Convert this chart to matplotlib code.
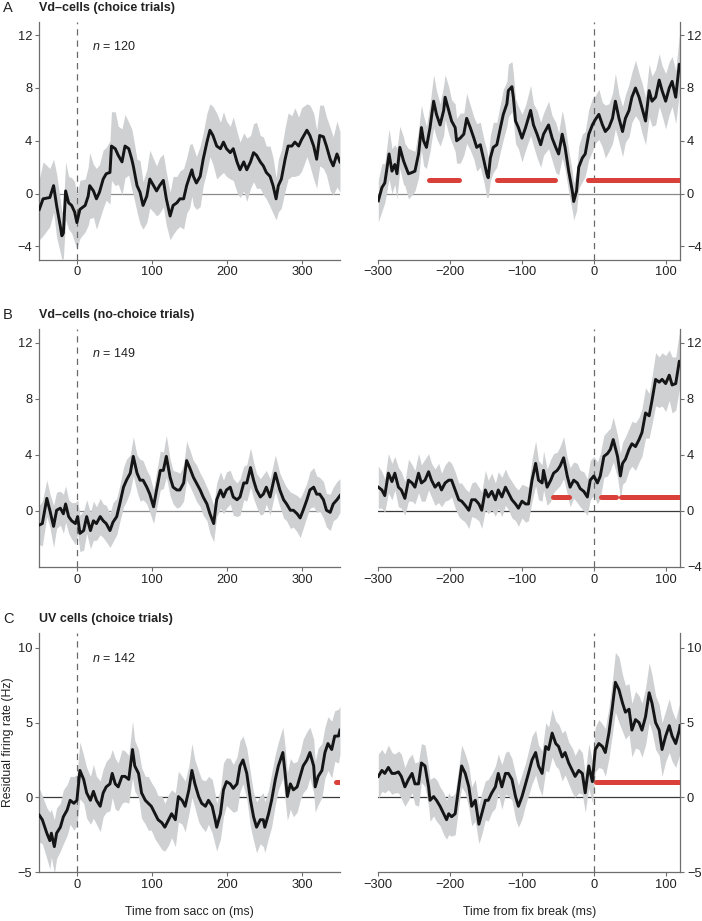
import numpy as np
import matplotlib
matplotlib.use("Agg")
import matplotlib.pyplot as plt

plt.rcParams['font.family'] = ['Liberation Sans', 'DejaVu Sans']
plt.rcParams['mathtext.fontset'] = 'custom'
plt.rcParams['mathtext.it'] = 'Liberation Sans:italic'
plt.rcParams['mathtext.rm'] = 'Liberation Sans'

# ---- data (time in ms, residual rate in Hz) ----
# A: Vd-cells, choice trials
a_sacc_t = [-50, -45, -36, -31, -27, -22, -20, -18, -15, -11, -7, -3, 0, 4, 11,
            15, 17, 22, 26, 30, 35, 39, 44, 46, 51, 55, 60, 64, 69, 73,
            75, 80, 84, 88, 93, 97, 102, 106, 110, 115, 119, 124, 128, 133, 137,
            142, 146, 150, 153, 155, 159, 164, 168, 173, 177, 181, 186, 191, 195, 199,
            204, 208, 213, 217, 222, 226, 231, 235, 239, 244, 248, 252, 257, 261, 265,
            268, 272, 277, 281, 286, 290, 295, 299, 306, 310, 315, 319, 323, 328, 332,
            337, 341, 346, 350]
a_sacc_mean = [-1.2, -0.4, -0.3, 0.6, -0.9, -2.5, -3.2, -3.0, 0.2, -0.7, -0.9, -1.4, -2.2, -1.2, -0.9,
               -0.2, 0.6, 0.2, -0.4, 0.1, 1.1, 1.5, 1.6, 3.6, 3.4, 2.9, 2.4, 3.6, 3.4, 2.6,
               2.1, 0.6, 0.1, -0.9, -0.2, 1.1, 0.6, 0.2, 0.6, 1.0, -0.4, -1.7, -0.9, -0.7, -0.4,
               -0.4, 0.6, 1.3, 1.8, 1.3, 0.8, 1.3, 2.6, 3.9, 4.8, 4.4, 3.6, 3.4, 3.9, 3.4,
               3.1, 3.4, 2.4, 1.8, 2.4, 1.8, 2.4, 3.1, 2.9, 2.4, 2.1, 1.6, 1.3, 0.6, -0.4,
               0.6, 1.1, 2.6, 3.6, 3.6, 3.9, 3.6, 4.1, 4.8, 4.4, 3.6, 2.6, 4.4, 4.3, 3.6,
               2.6, 2.1, 3.0, 2.4]
a_sacc_sem = [2.3, 2.8, 2.2, 2.0, 2.4, 2.0, 1.8, 1.9, 2.2, 2.0, 2.1, 2.3, 2.0, 2.2, 2.0,
              2.2, 2.5, 2.0, 2.3, 2.1, 2.2, 2.0, 2.4, 2.6, 2.8, 2.2, 2.5, 2.4, 2.0, 2.3,
              2.2, 2.0, 2.4, 1.8, 2.0, 2.2, 2.0, 1.9, 2.1, 2.0, 2.0, 1.8, 2.2, 2.0, 2.1,
              2.3, 2.1, 2.4, 2.0, 2.2, 2.0, 2.3, 2.0, 2.2, 2.0, 2.2, 2.5, 2.0, 2.3, 2.1,
              2.0, 2.4, 2.3, 2.1, 2.2, 2.4, 2.0, 2.2, 2.5, 2.0, 2.2, 2.0, 2.3, 2.1, 1.6,
              2.0, 2.2, 2.4, 2.5, 2.3, 2.6, 2.2, 2.4, 2.0, 2.3, 2.5, 2.2, 2.3, 2.4, 2.2,
              2.4, 2.2, 2.5, 2.3]

a_fix_t = [-300, -295, -291, -285, -281, -277, -274, -270, -265, -263, -258, -253, -249, -244,
           -240, -237, -233, -228, -223, -219, -214, -209, -207, -202, -198, -193, -191, -186, -181,
           -177, -172, -167, -163, -158, -153, -149, -147, -144, -140, -135, -130, -126, -121, -119,
           -114, -112, -109, -105, -100, -95, -88, -84, -79, -74, -70, -63, -58, -53, -49,
           -44, -40, -35, -30, -28, -24, -21, -16, -12, -7, -2, 2, 7, 12, 16,
           21, 26, 30, 35, 40, 44, 49, 53, 58, 63, 67, 72, 77, 81, 86,
           91, 95, 100, 105, 109, 114, 119, 120]
a_fix_mean = [-0.55, 0.45, 0.8, 3.0, 1.7, 2.2, 1.5, 3.5, 2.5, 2.2, 1.5, 1.6, 1.7, 3.0,
              5.0, 4.0, 3.5, 5.0, 7.0, 6.0, 5.2, 6.3, 7.3, 6.3, 5.5, 5.0, 4.0, 4.2, 4.5,
              5.7, 5.0, 4.2, 3.5, 3.7, 2.5, 1.5, 1.2, 2.7, 3.5, 3.7, 5.0, 6.0, 6.8, 7.8,
              8.1, 7.3, 5.5, 5.0, 4.2, 5.0, 6.3, 5.2, 4.5, 3.7, 4.5, 5.2, 4.2, 3.5, 3.0,
              4.5, 3.5, 1.7, 0.2, -0.6, 0.2, 2.0, 2.7, 3.0, 4.5, 5.2, 5.6, 6.0, 5.2, 4.7,
              5.0, 5.7, 7.0, 5.7, 4.7, 5.7, 6.3, 7.3, 8.0, 7.3, 6.5, 5.5, 7.8, 7.0, 7.3,
              8.6, 7.8, 7.0, 8.0, 8.5, 7.3, 9.8, 9.5]
a_fix_sem = [1.6, 1.8, 1.5, 1.9, 1.7, 1.5, 1.9, 1.6, 1.8, 1.6, 1.9, 1.7, 1.5, 1.8,
             1.7, 1.9, 1.6, 1.8, 2.0, 1.8, 1.6, 1.9, 1.7, 1.8, 1.6, 1.8, 1.7, 1.9, 1.6,
             1.9, 1.7, 1.6, 1.8, 1.7, 1.6, 1.8, 1.5, 1.7, 1.9, 1.7, 1.8, 1.9, 1.7, 2.0,
             1.9, 1.8, 1.7, 1.6, 1.8, 1.7, 1.9, 1.6, 1.8, 1.7, 1.6, 1.8, 1.7, 1.9, 1.6,
             1.8, 1.7, 1.6, 1.5, 1.4, 1.5, 1.6, 1.8, 1.7, 1.9, 2.0, 1.8, 1.9, 1.7, 2.0,
             1.8, 1.9, 2.1, 1.8, 1.9, 1.8, 2.0, 1.9, 2.1, 1.8, 1.9, 1.8, 2.0, 1.9, 2.1,
             2.0, 1.9, 2.1, 2.0, 1.9, 2.0, 2.2, 2.0]
a_fix_sig = [(-229, -188), (-135, -54), (-8, 120)]

# B: Vd-cells, no-choice trials
b_sacc_t = [-50, -46, -40, -36, -31, -27, -22, -18, -15, -11, -7, -2, 1, 4, 9,
            13, 18, 22, 26, 31, 35, 39, 44, 48, 53, 57, 62, 66, 71, 75,
            80, 84, 88, 93, 97, 102, 106, 111, 115, 119, 124, 128, 133, 137, 142,
            146, 150, 155, 159, 164, 168, 173, 177, 182, 186, 191, 195, 199, 204, 208,
            213, 217, 222, 226, 231, 235, 239, 244, 248, 252, 257, 264, 270, 275, 279,
            284, 288, 293, 297, 301, 306, 310, 315, 319, 323, 328, 332, 337, 341, 346,
            350]
b_sacc_mean = [-1.0, -0.9, 0.9, 0.05, -1.1, 0.05, 0.2, -0.2, 0.5, -0.4, -0.7, -0.9, -0.4, -1.6, -1.4,
               -0.4, -1.4, -0.7, -0.9, -0.4, -0.7, -0.9, -1.4, -0.8, -0.4, 0.5, 1.7, 2.2, 2.7, 3.9,
               2.7, 2.2, 2.2, 1.7, 1.2, 0.3, 1.5, 2.9, 2.9, 3.9, 2.4, 1.7, 1.5, 1.5, 2.0,
               3.6, 3.1, 2.4, 2.0, 1.5, 1.0, 0.5, -0.2, -0.9, 0.8, 1.5, 1.0, 1.5, 1.7, 1.0,
               0.8, 1.0, 2.0, 2.0, 3.1, 2.2, 1.5, 1.0, 1.2, 1.7, 1.0, 2.7, 1.5, 0.8, 0.5,
               0.05, 0.05, -0.2, -0.5, 0.05, 0.8, 1.5, 1.7, 1.2, 1.2, 0.8, 0.05, -0.1, 0.5, 0.8,
               1.1]
b_sacc_sem = [1.4, 1.6, 1.3, 1.2, 1.5, 1.3, 1.2, 1.4, 1.3, 1.2, 1.3, 1.5, 1.2, 1.3, 1.4,
              1.2, 1.3, 1.4, 1.2, 1.3, 1.2, 1.3, 1.2, 1.4, 1.3, 1.3, 1.4, 1.5, 1.3, 1.4,
              1.3, 1.5, 1.4, 1.2, 1.3, 1.2, 1.3, 1.4, 1.3, 1.5, 1.3, 1.2, 1.3, 1.2, 1.3,
              1.4, 1.3, 1.2, 1.3, 1.2, 1.3, 1.2, 1.4, 1.3, 1.2, 1.3, 1.2, 1.3, 1.2, 1.3,
              1.2, 1.3, 1.2, 1.3, 1.4, 1.3, 1.2, 1.3, 1.4, 1.2, 1.3, 1.3, 1.2, 1.3, 1.2,
              1.3, 1.2, 1.3, 1.4, 1.3, 1.2, 1.3, 1.4, 1.3, 1.2, 1.3, 1.2, 1.3, 1.2, 1.3,
              1.2]

b_fix_t = [-300, -295, -291, -286, -281, -277, -272, -268, -263, -258, -253, -249, -244, -240, -235,
           -230, -226, -221, -216, -212, -207, -202, -198, -193, -188, -184, -179, -174, -170, -165,
           -160, -156, -151, -147, -142, -137, -133, -128, -123, -119, -114, -109, -105, -100, -95,
           -91, -86, -81, -77, -72, -70, -65, -60, -56, -51, -47, -42, -37, -33, -28,
           -23, -19, -14, -9, -5, 0, 5, 9, 14, 19, 23, 27, 33, 37, 40,
           44, 49, 53, 58, 63, 67, 72, 77, 81, 86, 91, 95, 100, 105, 109,
           114, 119, 120]
b_fix_mean = [1.7, 1.5, 1.1, 2.7, 2.1, 2.7, 1.7, 1.5, 0.9, 2.2, 2.0, 1.7, 2.7, 2.0, 2.2,
              2.8, 2.2, 1.7, 2.0, 1.5, 2.0, 2.2, 2.2, 1.5, 0.8, 0.7, 0.4, 0.05, 0.8, 0.8,
              0.5, 0.05, 1.5, 1.0, 1.4, 0.8, 1.5, 1.0, 1.7, 1.3, 0.8, 0.5, 0.2, 0.7, 0.5,
              0.5, 2.2, 3.4, 2.2, 2.0, 2.9, 1.7, 2.2, 2.7, 2.9, 3.2, 3.8, 2.5, 1.7, 2.2,
              2.0, 1.6, 1.4, 1.0, 2.2, 2.5, 2.0, 2.5, 3.9, 4.1, 4.4, 5.1, 3.9, 2.5, 3.4,
              3.7, 4.4, 4.8, 4.6, 5.1, 5.6, 7.0, 6.8, 7.9, 9.4, 9.2, 9.4, 9.1, 9.7, 9.0,
              9.1, 10.7, 10.5]
b_fix_sem = [1.5, 1.3, 1.2, 1.4, 1.3, 1.2, 1.4, 1.3, 1.2, 1.5, 1.3, 1.2, 1.4, 1.3, 1.5,
             1.3, 1.2, 1.3, 1.4, 1.2, 1.3, 1.4, 1.2, 1.3, 1.2, 1.3, 1.2, 1.3, 1.2, 1.3,
             1.2, 1.3, 1.4, 1.2, 1.3, 1.2, 1.3, 1.4, 1.3, 1.2, 1.3, 1.2, 1.3, 1.2, 1.3,
             1.2, 1.5, 1.6, 1.4, 1.3, 1.4, 1.3, 1.5, 1.4, 1.3, 1.4, 1.5, 1.3, 1.4, 1.3,
             1.4, 1.3, 1.4, 1.3, 1.4, 1.4, 1.5, 1.6, 1.5, 1.6, 1.5, 1.6, 1.5, 1.6, 1.5,
             1.6, 1.5, 1.6, 1.7, 1.6, 1.7, 1.8, 1.6, 1.7, 1.9, 1.8, 1.9, 2.0, 1.8, 2.0,
             1.9, 2.0, 1.9]
b_fix_sig = [(-57, -35), (10, 31), (38, 120)]

# C: UV cells, choice trials
c_sacc_t = [-50, -46, -40, -36, -34, -30, -27, -22, -18, -13, -9, -4, 0, 4, 9,
            13, 18, 22, 26, 31, 35, 39, 44, 47, 51, 55, 60, 64, 69, 74,
            77, 82, 86, 91, 95, 99, 104, 108, 113, 117, 122, 126, 131, 135, 140,
            144, 149, 153, 157, 162, 166, 171, 175, 180, 184, 186, 191, 195, 199, 204,
            208, 213, 217, 221, 226, 231, 235, 239, 244, 248, 250, 255, 259, 264, 268,
            274, 277, 280, 284, 288, 293, 297, 301, 306, 310, 315, 317, 321, 326, 330,
            334, 339, 343, 348, 350]
c_sacc_mean = [-1.2, -1.5, -2.4, -2.9, -2.4, -3.3, -2.4, -2.0, -1.3, -0.85, -0.2, -0.4, -0.2, 1.8, 1.2,
               0.3, -0.2, 0.4, -0.2, -0.6, 0.3, 0.7, 0.9, 1.6, 0.9, 0.7, 1.4, 1.4, 1.2, 3.2,
               2.1, 1.6, 0.3, -0.2, -0.4, -0.6, -1.1, -1.5, -1.7, -2.0, -1.5, -1.1, -1.5, 0.05, -0.2,
               -0.6, 0.5, 1.8, 0.9, 0.05, -0.4, -0.6, -0.2, -0.6, -1.5, -2.0, -1.1, 0.5, 1.05, 0.9,
               0.6, 0.9, 2.1, 2.5, 1.6, -0.2, -1.3, -2.0, -1.5, -1.5, -2.0, -1.1, -0.2, 1.2, 2.1,
               3.0, 1.6, 0.05, 0.9, 0.5, 0.7, 1.4, 2.1, 2.5, 3.0, 2.1, 0.7, 1.4, 1.8, 3.0,
               3.6, 3.2, 4.1, 4.1, 4.5]
c_sacc_sem = [1.8, 1.6, 1.7, 1.9, 1.6, 1.8, 1.7, 1.6, 1.8, 1.7, 1.6, 1.8, 1.7, 1.9, 1.6,
              1.7, 1.6, 1.8, 1.6, 1.7, 1.6, 1.7, 1.8, 1.6, 1.7, 1.6, 1.8, 1.7, 1.6, 1.9,
              1.7, 1.6, 1.7, 1.6, 1.8, 1.6, 1.7, 1.6, 1.8, 1.6, 1.7, 1.6, 1.8, 1.7, 1.6,
              1.7, 1.6, 1.8, 1.6, 1.7, 1.6, 1.7, 1.6, 1.8, 1.7, 1.6, 1.7, 1.8, 1.6, 1.7,
              1.6, 1.8, 1.7, 1.6, 1.7, 1.8, 1.6, 1.7, 1.6, 1.8, 1.7, 1.6, 1.8, 1.7, 1.6,
              1.7, 1.8, 1.6, 1.7, 1.8, 1.7, 1.6, 1.8, 1.9, 1.7, 1.8, 1.7, 1.9, 1.8, 1.7,
              1.8, 1.9, 1.7, 1.8, 1.6]
c_sacc_sig = [(345, 350)]

c_fix_t = [-300, -295, -291, -286, -281, -277, -272, -268, -263, -258, -253, -249, -244, -240, -235,
           -230, -228, -223, -219, -214, -209, -205, -202, -198, -193, -188, -184, -179, -174, -170,
           -165, -160, -156, -151, -147, -142, -137, -133, -128, -123, -119, -114, -109, -105, -100,
           -95, -91, -86, -81, -77, -72, -67, -63, -58, -53, -49, -44, -40, -35, -30,
           -26, -21, -16, -12, -7, -2, 2, 7, 12, 16, 21, 26, 30, 35, 40,
           44, 49, 53, 58, 63, 67, 72, 77, 81, 86, 91, 95, 100, 105, 109,
           114, 119, 120]
c_fix_mean = [1.4, 1.8, 1.6, 2.0, 1.6, 1.6, 1.7, 1.4, 0.7, 1.2, 1.6, 0.9, 0.9, 2.3, 2.1,
              0.7, -0.2, 0.05, -0.2, -0.6, -1.1, -1.5, -1.1, -1.3, -1.1, 0.7, 2.1, 1.6, 0.7, -0.6,
              -0.2, -1.8, -1.1, -0.2, -0.2, 0.3, 0.7, 1.6, 0.7, 1.6, 1.6, 1.2, 0.05, -0.6, 0.05,
              0.9, 1.6, 2.5, 3.0, 2.1, 1.6, 3.4, 3.2, 4.3, 3.6, 3.4, 2.7, 3.0, 2.3, 1.8,
              1.4, 1.8, 1.6, 0.3, 2.1, 1.05, 3.2, 3.6, 3.4, 3.0, 4.3, 6.1, 7.7, 7.2, 6.3,
              5.7, 5.9, 4.5, 5.2, 5.0, 4.5, 5.4, 7.0, 6.3, 5.0, 4.5, 3.2, 4.1, 4.8, 4.1,
              3.6, 4.5, 4.8]
c_fix_sem = [1.5, 1.4, 1.3, 1.5, 1.4, 1.3, 1.4, 1.5, 1.3, 1.4, 1.3, 1.4, 1.5, 1.3, 1.4,
             1.3, 1.4, 1.3, 1.4, 1.3, 1.4, 1.3, 1.4, 1.3, 1.4, 1.3, 1.4, 1.3, 1.4, 1.3,
             1.4, 1.3, 1.4, 1.3, 1.4, 1.3, 1.4, 1.3, 1.5, 1.4, 1.5, 1.4, 1.5, 1.4, 1.5,
             1.4, 1.5, 1.6, 1.5, 1.4, 1.5, 1.6, 1.5, 1.6, 1.5, 1.5, 1.6, 1.5, 1.4, 1.5,
             1.4, 1.5, 1.4, 1.3, 1.5, 1.4, 1.5, 1.6, 1.5, 1.6, 1.7, 1.8, 2.0, 2.2, 1.9,
             1.8, 1.7, 1.8, 1.9, 1.8, 1.8, 1.9, 2.0, 1.9, 1.8, 1.7, 1.8, 1.7, 1.8, 1.7,
             1.6, 1.7, 1.6]
c_fix_sig = [(3, 120)]

titles = ["Vd\u2013cells (choice trials)", "Vd\u2013cells (no-choice trials)", "UV cells (choice trials)"]
letters = ["A", "B", "C"]
n_cells = [120, 149, 142]

BAND = '#cfd0d2'
SPINE = '#6e6e6e'
RED = '#d9403a'


def draw_panel(ax, t, mean, sem, side, ylim, yticks, xlim, xticks, sig=(), zero_col='#8a8a8a'):
    t = np.asarray(t, float)
    mean = np.asarray(mean, float)
    sem = np.asarray(sem, float)
    ax.axhline(0, color=zero_col, lw=0.9, zorder=1)
    ax.fill_between(t, mean - sem, mean + sem, color=BAND, lw=0, zorder=2)
    ax.axvline(0, color='#6a6a6a', lw=0.9, ls=(0, (5, 4)), zorder=3)
    ax.plot(t, mean, color='#151515', lw=2.1, zorder=4, solid_joinstyle='round')
    for s0, s1 in sig:
        ax.plot([s0, s1], [1, 1], color=RED, lw=3.6, solid_capstyle='round', zorder=5)
    ax.set_xlim(*xlim)
    ax.set_ylim(*ylim)
    ax.set_xticks(xticks)
    ax.set_yticks(yticks)
    ax.set_xticklabels([str(v).replace('-', '\u2212') for v in xticks])
    ax.set_yticklabels([str(v).replace('-', '\u2212') for v in yticks])
    ax.spines['top'].set_visible(False)
    if side == 'left':
        ax.spines['right'].set_visible(False)
    else:
        ax.spines['left'].set_visible(False)
        ax.yaxis.tick_right()
    for sp in ax.spines.values():
        sp.set_color(SPINE)
        sp.set_linewidth(0.9)
    ax.tick_params(direction='out', length=3, width=0.8, color=SPINE,
                   labelsize=9.3, labelcolor='#222222', pad=2)


fig = plt.figure(figsize=(7.02, 9.21), dpi=100)

# axes rectangles (fig fraction)
row_y = [(0.7182, 0.2579), (0.3844, 0.2584), (0.0532, 0.2595)]
lx, lw_ = 0.0560, 0.4283
rx, rw_ = 0.5389, 0.4298

rows = [
    (a_sacc_t, a_sacc_mean, a_sacc_sem, [], a_fix_t, a_fix_mean, a_fix_sem, a_fix_sig,
     (-5, 13), [-4, 0, 4, 8, 12], [-4, 0, 4, 8, 12], '#8a8a8a', '#8a8a8a'),
    (b_sacc_t, b_sacc_mean, b_sacc_sem, [], b_fix_t, b_fix_mean, b_fix_sem, b_fix_sig,
     (-4, 13), [0, 4, 8, 12], [-4, 0, 4, 8, 12], '#8a8a8a', '#3a3a3a'),
    (c_sacc_t, c_sacc_mean, c_sacc_sem, c_sacc_sig, c_fix_t, c_fix_mean, c_fix_sem, c_fix_sig,
     (-5, 11), [-5, 0, 5, 10], [-5, 0, 5, 10], '#3a3a3a', '#3a3a3a'),
]

for i, (st, sm, ss, ssig, ft, fm, fs, fsig, ylim, ytl, ytr, zl, zr) in enumerate(rows):
    b, h = row_y[i]
    axl = fig.add_axes([lx, b, lw_, h])
    axr = fig.add_axes([rx, b, rw_, h])
    draw_panel(axl, st, sm, ss, 'left', ylim, ytl, (-50, 350), [0, 100, 200, 300], ssig, zl)
    draw_panel(axr, ft, fm, fs, 'right', ylim, ytr, (-300, 120), [-300, -200, -100, 0, 100], fsig, zr)
    axl.text(20, ylim[1] - (ylim[1] - ylim[0]) * 0.105, r'$\it{n}$ = %d' % n_cells[i],
             fontsize=9, color='#222222', va='center', ha='left')
    top_px = (1 - (b + h)) * 921
    ty = 1 - (top_px - 14) / 921
    fig.text(0.004, ty, letters[i], fontsize=10.5, color='#222222', va='center', ha='left')
    fig.text(0.056, ty, titles[i], fontsize=9, fontweight='bold', color='#222222',
             va='center', ha='left')

fig.text(lx + lw_ / 2, 0.0095, "Time from sacc on (ms)", fontsize=8.8, color='#222222',
         ha='center', va='center')
fig.text(rx + rw_ / 2, 0.0095, "Time from fix break (ms)", fontsize=8.8, color='#222222',
         ha='center', va='center')
fig.text(0.011, 1 - 742 / 921, "Residual firing rate (Hz)", fontsize=8.8, color='#222222',
         rotation=90, ha='center', va='center')

fig.savefig("out.png", dpi=100)
